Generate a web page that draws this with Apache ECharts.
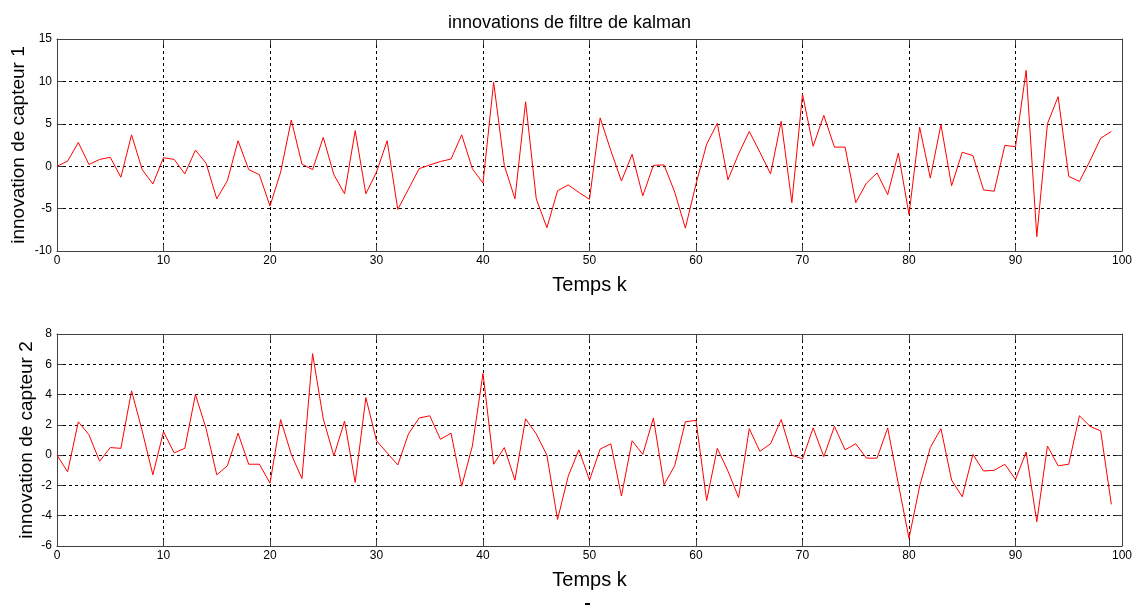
<!DOCTYPE html>
<html>
<head>
<meta charset="utf-8">
<script src="https://cdn.jsdelivr.net/npm/echarts@6/dist/echarts.min.js"></script>
<style>html,body{margin:0;padding:0;background:#fff;}#c{width:1139px;height:611px;}</style>
</head>
<body>
<div id="c"></div>
<script>
var titleText = 'innovations de filtre de kalman';
var xName = 'Temps k';
var y1Name = 'innovation de capteur 1';
var y2Name = 'innovation de capteur 2';
var xTicks = [0,10,20,30,40,50,60,70,80,90,100];
var y1Ticks = [-10,-5,0,5,10,15];
var y2Ticks = [-6,-4,-2,0,2,4,6,8];

var capteur1 = [0,0.6,2.8,0.2,0.8,1.05,-1.3,3.7,-0.4,-2.1,
  1.0,0.8,-0.9,1.9,0.35,-3.85,-1.7,3.0,-0.4,-1.0,
  -4.7,-0.7,5.45,0.25,-0.4,3.4,-1.0,-3.25,4.2,-3.25,
  -0.7,3.0,-5.1,-2.7,-0.3,0.15,0.55,0.85,3.7,-0.3,
  -2.0,9.9,0.1,-3.85,7.6,-3.85,-7.25,-2.9,-2.2,-3.1,
  -3.9,5.7,1.85,-1.75,1.4,-3.5,0.1,0.15,-3.05,-7.3,
  -2.1,2.6,5.05,-1.6,1.45,4.1,1.65,-0.9,5.3,-4.3,
  8.5,2.35,6.0,2.25,2.25,-4.3,-2.0,-0.8,-3.35,1.55,
  -5.7,4.6,-1.4,4.9,-2.3,1.65,1.25,-2.8,-2.95,2.45,
  2.3,11.3,-8.3,5.0,8.2,-1.2,-1.8,0.65,3.3,4.1];

var capteur2 = [0,-1.1,2.2,1.35,-0.4,0.5,0.45,4.25,1.6,-1.3,
  1.55,0.15,0.45,4.0,1.75,-1.3,-0.7,1.45,-0.6,-0.6,
  -1.85,2.35,0.05,-1.55,6.7,2.4,-0.05,2.25,-1.8,3.8,
  0.95,0.15,-0.65,1.4,2.45,2.6,1.05,1.45,-2.05,0.6,
  5.4,-0.6,0.5,-1.65,2.4,1.4,0.0,-4.25,-1.4,0.35,
  -1.65,0.4,0.75,-2.7,0.95,0.05,2.45,-1.95,-0.7,2.2,
  2.3,-3.0,0.45,-1.05,-2.8,1.75,0.25,0.75,2.35,0.0,
  -0.25,1.8,-0.1,1.9,0.35,0.75,-0.2,-0.2,1.8,-1.9,
  -5.5,-2.05,0.5,1.75,-1.65,-2.75,0.05,-1.05,-1.0,-0.6,
  -1.6,0.2,-4.4,0.6,-0.7,-0.6,2.6,1.9,1.6,-3.25];

function pairs(arr){ return arr.map(function(v,i){ return [i,v]; }); }

var FONT = '"Liberation Sans", Arial, sans-serif';
var axisCol = '#404040';
var gridLine = {show:true, lineStyle:{color:'#000', type:[3,3], width:1}};

function xAxisMain(gi){
  return {type:'value', gridIndex:gi, min:xTicks[0], max:xTicks[xTicks.length-1], interval:10,
    name:xName, nameLocation:'middle', nameGap:24, nameMoveOverlap:false,
    nameTextStyle:{fontFamily:FONT, fontSize:20, color:'#000'},
    axisLine:{show:true, onZero:false, lineStyle:{color:axisCol, width:1}},
    axisTick:{show:true, inside:true, length:6, lineStyle:{color:axisCol}},
    axisLabel:{fontFamily:FONT, fontSize:12, color:'#000', margin:4},
    splitLine:gridLine};
}
function xAxisTop(gi){
  return {type:'value', gridIndex:gi, position:'top', min:xTicks[0], max:xTicks[xTicks.length-1], interval:10,
    axisLine:{show:true, onZero:false, lineStyle:{color:axisCol, width:1}},
    axisTick:{show:true, inside:true, length:6, lineStyle:{color:axisCol}},
    axisLabel:{show:false}, splitLine:{show:false}};
}
function yAxisMain(gi, ticks, name, gap){
  return {type:'value', gridIndex:gi, min:ticks[0], max:ticks[ticks.length-1], interval:ticks[1]-ticks[0],
    name:name, nameLocation:'middle', nameGap:gap, nameRotate:90, nameMoveOverlap:false,
    nameTextStyle:{fontFamily:FONT, fontSize:19, color:'#000'},
    axisLine:{show:true, onZero:false, lineStyle:{color:axisCol, width:1}},
    axisTick:{show:true, inside:true, length:6, lineStyle:{color:axisCol}},
    axisLabel:{fontFamily:FONT, fontSize:12, color:'#000', margin:5},
    splitLine:gridLine};
}
function yAxisRight(gi, ticks){
  return {type:'value', gridIndex:gi, position:'right', min:ticks[0], max:ticks[ticks.length-1], interval:ticks[1]-ticks[0],
    axisLine:{show:true, onZero:false, lineStyle:{color:axisCol, width:1}},
    axisTick:{show:true, inside:true, length:6, lineStyle:{color:axisCol}},
    axisLabel:{show:false}, splitLine:{show:false}};
}

var chart = echarts.init(document.getElementById('c'), null, {renderer:'canvas'});
chart.setOption({
  backgroundColor:'#fff',
  animation:false,
  title:{text:titleText, left:'center', top:9, textStyle:{fontFamily:FONT, fontSize:18, fontWeight:'normal', color:'#000'}},
  grid:[
    {left:57, top:39, width:1065, height:212, outerBoundsMode:'none', containLabel:false},
    {left:57, top:334, width:1065, height:212, outerBoundsMode:'none', containLabel:false}
  ],
  xAxis:[xAxisMain(0), xAxisTop(0), xAxisMain(1), xAxisTop(1)],
  yAxis:[yAxisMain(0, y1Ticks, y1Name, 29), yAxisRight(0, y1Ticks), yAxisMain(1, y2Ticks, y2Name, 21), yAxisRight(1, y2Ticks)],
  graphic:[{type:'rect', left:585, top:603, shape:{width:5, height:2}, style:{fill:'#000'}}],
  series:[
    {type:'line', xAxisIndex:0, yAxisIndex:0, data:pairs(capteur1), showSymbol:false, symbol:'none',
      lineStyle:{color:'#ff0000', width:1}, itemStyle:{color:'#ff0000'}},
    {type:'line', xAxisIndex:2, yAxisIndex:2, data:pairs(capteur2), showSymbol:false, symbol:'none',
      lineStyle:{color:'#ff0000', width:1}, itemStyle:{color:'#ff0000'}}
  ]
});
</script>
</body>
</html>
